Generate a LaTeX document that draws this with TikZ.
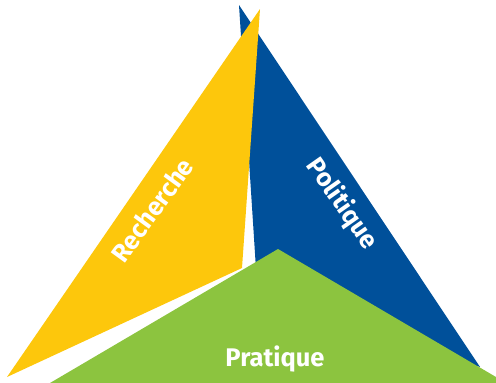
\documentclass[tikz,border=0pt]{standalone}
\usepackage{fontspec}
\setsansfont{Fira Sans}

\definecolor{jaune}{HTML}{FDC70C}
\definecolor{bleu}{HTML}{00509A}
\definecolor{vert}{HTML}{8CC43F}

\begin{document}
\begin{tikzpicture}[x=1pt, y=-1pt,
    etiquette/.style={text=white, inner sep=0pt, font=\sffamily\bfseries\fontsize{25.5}{25.5}\selectfont}]

        \useasboundingbox (0,0) rectangle (496,383);

        % Politique
        \fill[bleu] (239,5) -- (480,367) -- (258,300) -- cycle;

        % Recherche
        \fill[jaune] (260,9) -- (242,268) -- (7,377) -- cycle;

        % Pratique
        \fill[vert] (50,383) -- (278,249) -- (496,377) -- (496,383) -- cycle;

        % Labels
        \node[etiquette, rotate=54] (recherche) at (152,210) {Recherche};
        \node[etiquette, rotate=-55] (politique) at (342,204) {Politique};
        \node[etiquette] (pratique) at (275,359) {Pratique};

    \end{tikzpicture}
\end{document}
